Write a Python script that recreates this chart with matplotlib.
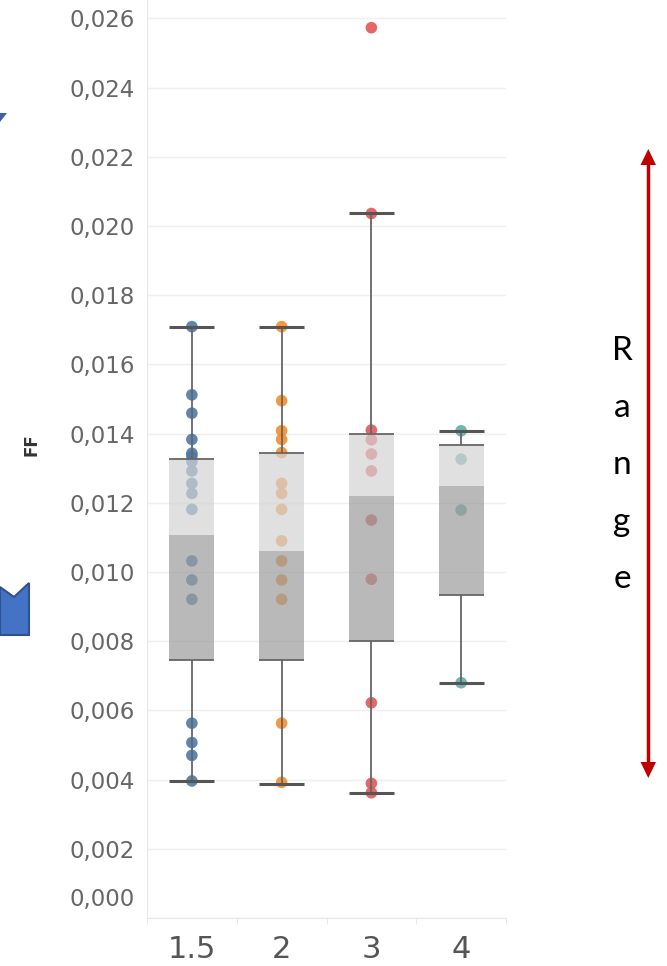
import numpy as np
import matplotlib.pyplot as plt
from matplotlib.patches import Polygon

# FF values per category
categories = ['1.5', '2', '3', '4']
ff_15 = [0.01709, 0.01512, 0.01459, 0.01383, 0.01343, 0.01335, 0.01319, 0.01292,
         0.01256, 0.01227, 0.01181, 0.01032, 0.00977, 0.00921, 0.00563, 0.00507,
         0.00470, 0.00396]
ff_2 = [0.01709, 0.01495, 0.01408, 0.01383, 0.01345, 0.01256, 0.01227, 0.01181,
        0.01090, 0.01032, 0.00977, 0.00921, 0.00563, 0.00392]
ff_3 = [0.02573, 0.02036, 0.01410, 0.01382, 0.01341, 0.01292, 0.01150, 0.00979,
        0.00622, 0.00389, 0.00362]
ff_4 = [0.01408, 0.01326, 0.01179, 0.00680]

# box plot statistics
whisker_low = [0.00396, 0.00386, 0.00362, 0.00680]
q1 = [0.00746, 0.00746, 0.00801, 0.00934]
median = [0.01107, 0.01061, 0.01221, 0.01249]
q3 = [0.01327, 0.01345, 0.01398, 0.01367]
whisker_high = [0.01709, 0.01709, 0.02036, 0.01408]

y_ticks = [0.000, 0.002, 0.004, 0.006, 0.008, 0.010, 0.012, 0.014, 0.016,
           0.018, 0.020, 0.022, 0.024, 0.026]

colors = ['#4e79a7', '#f28e2b', '#e15759', '#63aea8']
W, H = 667, 966


def fig_xy(px, py):
    return px / W, 1 - py / H


fig = plt.figure(figsize=(W / 100, H / 100), dpi=100)
ax = fig.add_axes([147 / W, 48 / H, 359 / W, 918 / H])

x = np.arange(len(categories))
points = [ff_15, ff_2, ff_3, ff_4]
for i, (pts, c) in enumerate(zip(points, colors)):
    ax.scatter(np.full(len(pts), x[i]), pts, s=70, color=c, alpha=0.9,
               edgecolors='none', zorder=2)

q1a, meda, q3a = np.array(q1), np.array(median), np.array(q3)
ax.bar(x, meda - q1a, bottom=q1a, width=0.5, color='#9c9c9c', alpha=0.7, zorder=3)
ax.bar(x, q3a - meda, bottom=meda, width=0.5, color='#d3d3d3', alpha=0.7, zorder=3)
ax.hlines(q1, x - 0.25, x + 0.25, color='#666666', lw=1.3, zorder=4)
ax.hlines(q3, x - 0.25, x + 0.25, color='#666666', lw=1.3, zorder=4)
ax.vlines(x, whisker_low, q1, color='#666666', lw=1.3, zorder=4)
ax.vlines(x, q3, whisker_high, color='#666666', lw=1.3, zorder=4)
ax.hlines(whisker_low, x - 0.25, x + 0.25, color='#555555', lw=2.2, zorder=4)
ax.hlines(whisker_high, x - 0.25, x + 0.25, color='#555555', lw=2.2, zorder=4)

ax.set_xlim(-0.5, 3.5)
ax.set_ylim(0, 0.02653)
ax.set_yticks(y_ticks)
ax.set_yticklabels(['' if v == 0 else f'{v:.3f}'.replace('.', ',') for v in y_ticks],
                   fontsize=16.5, color='#666666')
ax.annotate('0,000', xy=(0, 0), xycoords=('axes fraction', 'data'),
            xytext=(-8.6, 13), textcoords='offset points', ha='right', va='center',
            fontsize=16.5, color='#666666')
ax.set_xticks(x)
ax.set_xticklabels(categories, fontsize=22, color='#555555')
ax.set_xticks(np.arange(-0.5, 4.0, 1.0), minor=True)
ax.tick_params(axis='both', which='major', length=0)
ax.tick_params(axis='y', pad=8.6)
ax.tick_params(axis='x', pad=12)
ax.tick_params(axis='x', which='minor', length=4, color='#e6e6e6')
ax.grid(axis='y', color='#efefef', lw=1)
ax.set_axisbelow(True)
for s in ['top', 'right']:
    ax.spines[s].set_visible(False)
for s in ['left', 'bottom']:
    ax.spines[s].set_color('#e8e8e8')

fig.text(*fig_xy(32, 445), 'FF', rotation=90, fontweight='bold', fontsize=12,
         color='#333333', ha='center', va='center')

# blue arrow shapes on the left edge
fig.patches.append(Polygon([fig_xy(0, 113), fig_xy(7, 113), fig_xy(0, 122)],
                           closed=True, transform=fig.transFigure,
                           facecolor='#3a63a8', edgecolor='none'))
fig.patches.append(Polygon([fig_xy(0, 587), fig_xy(14, 597), fig_xy(29, 583),
                            fig_xy(29, 635), fig_xy(0, 635)],
                           closed=True, transform=fig.transFigure,
                           facecolor='#4472c4', edgecolor='#2f528f', lw=1.5))

# red range arrow
fig.add_artist(plt.Line2D([648 / W, 648 / W], [1 - 165 / H, 1 - 762 / H],
                          transform=fig.transFigure, color='#c00000', lw=2.5))
fig.patches.append(Polygon([fig_xy(640.5, 165), fig_xy(656, 165), fig_xy(648.3, 149)],
                           closed=True, transform=fig.transFigure,
                           facecolor='#c00000', edgecolor='none'))
fig.patches.append(Polygon([fig_xy(640.5, 762), fig_xy(656, 762), fig_xy(648.3, 778)],
                           closed=True, transform=fig.transFigure,
                           facecolor='#c00000', edgecolor='none'))
for k, ch in enumerate('Range'):
    fig.text(*fig_xy(622, 360 + 57 * k), ch, fontsize=24, family='Lato',
             color='black', ha='center', va='baseline')

fig.savefig('out.png', dpi=100)
